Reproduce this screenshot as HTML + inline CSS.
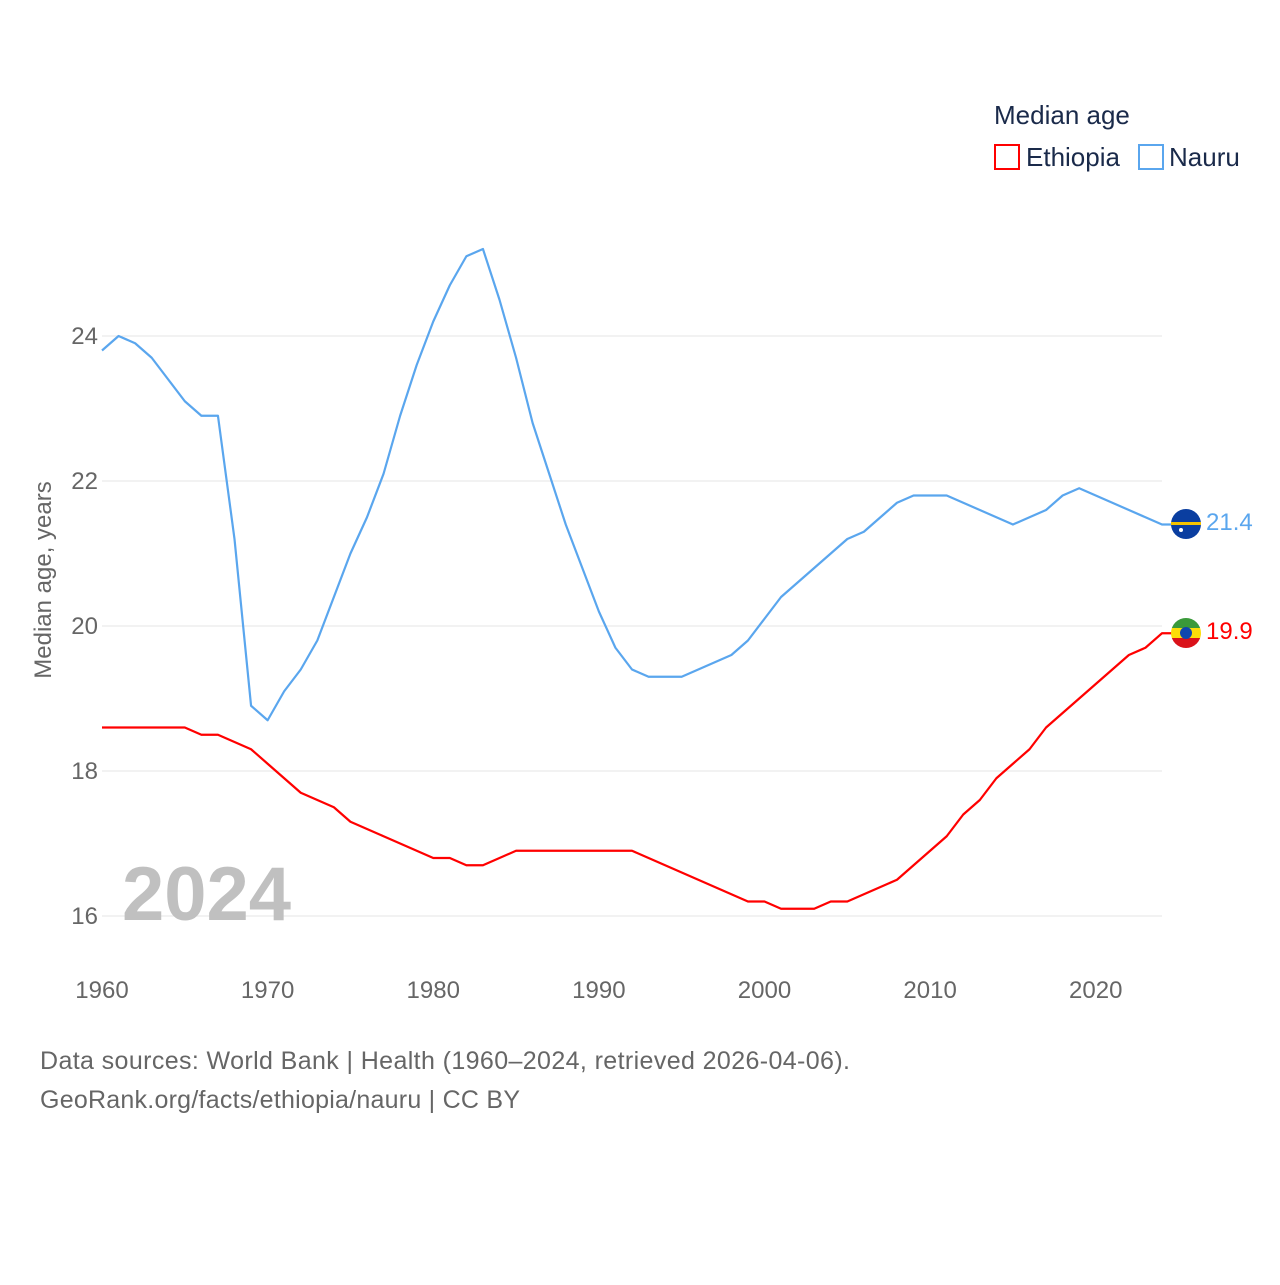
<!DOCTYPE html>
<html><head><meta charset="utf-8">
<style>
body{margin:0;background:#fff;font-family:"Liberation Sans",sans-serif;}
svg text{font-family:"Liberation Sans",sans-serif;}
</style></head>
<body>
<svg id="chart" width="1280" height="1280" viewBox="0 0 1280 1280" xmlns="http://www.w3.org/2000/svg">
<g id="grid"></g>
<g id="yticks"></g>
<g id="xticks"></g>
<text x="122" y="920" font-size="76" font-weight="bold" fill="#c0c0c0">2024</text>
<text transform="translate(51,580) rotate(-90)" text-anchor="middle" font-size="24" fill="#666">Median age, years</text>
<g id="series"></g>
<g>
<text x="994" y="124" font-size="26" fill="#1a2a4a">Median age</text>
<g><rect x="995" y="145" width="24" height="24" fill="none" stroke="#f00" stroke-width="2"/><text x="1026" y="166" font-size="26" fill="#1a2a4a">Ethiopia</text></g>
<g><rect x="1139" y="145" width="24" height="24" fill="none" stroke="#5aa6ee" stroke-width="2"/><text x="1169" y="166" font-size="26" fill="#1a2a4a">Nauru</text></g>
</g>
<g><circle cx="1186" cy="524" r="15" fill="#0a3ea0"/><rect x="1171" y="522" width="30" height="3" fill="#f5c400"/><circle cx="1181" cy="530" r="2" fill="#fff"/></g>
<g><clipPath id="ec"><circle cx="1186" cy="633" r="15"/></clipPath><g clip-path="url(#ec)"><rect x="1171" y="618" width="30" height="10" fill="#3a9a3a"/><rect x="1171" y="628" width="30" height="10" fill="#fcdd09"/><rect x="1171" y="638" width="30" height="10" fill="#da121a"/></g><circle cx="1186" cy="633" r="6" fill="#0f47af"/></g>
<text x="1206" y="530" font-size="24" fill="#5aa6ee">21.4</text>
<text x="1206" y="639" font-size="24" fill="#f00">19.9</text>
<text x="40" y="1069" font-size="25" fill="#666" textLength="810">Data sources: World Bank | Health (1960–2024, retrieved 2026-04-06).</text>
<text x="40" y="1108" font-size="25" fill="#666" textLength="480">GeoRank.org/facts/ethiopia/nauru | CC BY</text>
</svg>
<script>
const years=[];for(let y=1960;y<=2024;y++)years.push(y);
const nauru=[23.8,24.0,23.9,23.7,23.4,23.1,22.9,22.9,21.2,18.9,18.7,19.1,19.4,19.8,20.4,21.0,21.5,22.1,22.9,23.6,24.2,24.7,25.1,25.2,24.5,23.7,22.8,22.1,21.4,20.8,20.2,19.7,19.4,19.3,19.3,19.3,19.4,19.5,19.6,19.8,20.1,20.4,20.6,20.8,21.0,21.2,21.3,21.5,21.7,21.8,21.8,21.8,21.7,21.6,21.5,21.4,21.5,21.6,21.8,21.9,21.8,21.7,21.6,21.5,21.4];
const ethiopia=[18.6,18.6,18.6,18.6,18.6,18.6,18.5,18.5,18.4,18.3,18.1,17.9,17.7,17.6,17.5,17.3,17.2,17.1,17.0,16.9,16.8,16.8,16.7,16.7,16.8,16.9,16.9,16.9,16.9,16.9,16.9,16.9,16.9,16.8,16.7,16.6,16.5,16.4,16.3,16.2,16.2,16.1,16.1,16.1,16.2,16.2,16.3,16.4,16.5,16.7,16.9,17.1,17.4,17.6,17.9,18.1,18.3,18.6,18.8,19.0,19.2,19.4,19.6,19.7,19.9];
const yTicks=[16,18,20,22,24];
const xTicks=[1960,1970,1980,1990,2000,2010,2020];
const NS="http://www.w3.org/2000/svg";
const xs=y=>102+(y-1960)*(1162-102)/64;
const ys=v=>916-(v-16)*72.5;
const grid=document.getElementById('grid'),yt=document.getElementById('yticks'),xt=document.getElementById('xticks'),ser=document.getElementById('series');
yTicks.forEach(t=>{
 const l=document.createElementNS(NS,'line');
 
 
 l.setAttribute('x1',102);l.setAttribute('x2',1162);l.setAttribute('y1',ys(t));l.setAttribute('y2',ys(t));l.setAttribute('stroke','#e6e6e6');l.setAttribute('stroke-width','1');
 grid.appendChild(l);
 const tx=document.createElementNS(NS,'text');
 
 
 tx.setAttribute('x',98);tx.setAttribute('y',ys(t)+8);tx.setAttribute('text-anchor','end');tx.setAttribute('font-size','24');tx.setAttribute('fill','#666');
 tx.textContent=t;yt.appendChild(tx);
});
xTicks.forEach(t=>{
 const tx=document.createElementNS(NS,'text');
 
 
 tx.setAttribute('x',xs(t));tx.setAttribute('y',998);tx.setAttribute('text-anchor','middle');tx.setAttribute('font-size','24');tx.setAttribute('fill','#666');
 tx.textContent=t;xt.appendChild(tx);
});
function line(vals,color,name){
 const p=document.createElementNS(NS,'polyline');
 
 
 let pts=vals.map((v,i)=>xs(years[i])+','+ys(v));
 pts.push('1172,'+ys(vals[vals.length-1]));
 p.setAttribute('points',pts.join(' '));
 p.setAttribute('fill','none');p.setAttribute('stroke',color);p.setAttribute('stroke-width','2.2');p.setAttribute('stroke-linejoin','round');
 ser.appendChild(p);
}
line(nauru,'#5aa6ee','nauru-line');
line(ethiopia,'#f00','ethiopia-line');
</script>
</body></html>
